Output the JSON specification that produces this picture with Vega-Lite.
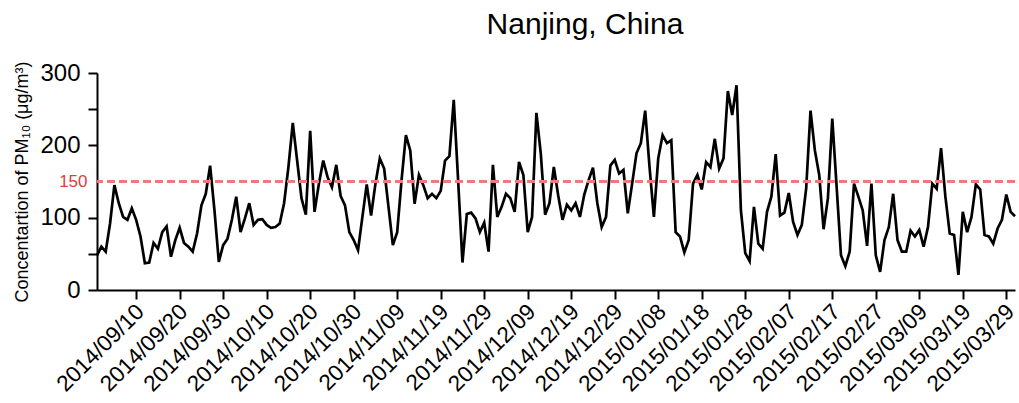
{
  "$schema": "https://vega.github.io/schema/vega-lite/v6.json",
  "width": 918,
  "height": 217,
  "autosize": {"type": "none"},
  "padding": {"left": 97, "top": 73, "right": 4, "bottom": 113},
  "background": "white",
  "title": {"text": "Nanjing, China", "fontSize": 30, "font": "Liberation Sans", "fontWeight": "normal", "color": "black", "anchor": "middle", "dx": 29, "offset": 21},
  "config": {"view": {"stroke": null}},
  "resolve": {"scale": {"y": "shared"}, "axis": {"y": "independent"}},
  "layer": [
    {
      "data": {"values": [
        {"date":"2014-09-01","pm10":48},{"date":"2014-09-02","pm10":60},{"date":"2014-09-03","pm10":53},{"date":"2014-09-04","pm10":92},{"date":"2014-09-05","pm10":145},{"date":"2014-09-06","pm10":120},{"date":"2014-09-07","pm10":101},{"date":"2014-09-08","pm10":97},{"date":"2014-09-09","pm10":113},{"date":"2014-09-10","pm10":97},
        {"date":"2014-09-11","pm10":74},{"date":"2014-09-12","pm10":37},{"date":"2014-09-13","pm10":38},{"date":"2014-09-14","pm10":65},{"date":"2014-09-15","pm10":57},{"date":"2014-09-16","pm10":80},{"date":"2014-09-17","pm10":88},{"date":"2014-09-18","pm10":46},{"date":"2014-09-19","pm10":69},{"date":"2014-09-20","pm10":86},
        {"date":"2014-09-21","pm10":65},{"date":"2014-09-22","pm10":60},{"date":"2014-09-23","pm10":53},{"date":"2014-09-24","pm10":78},{"date":"2014-09-25","pm10":117},{"date":"2014-09-26","pm10":133},{"date":"2014-09-27","pm10":172},{"date":"2014-09-28","pm10":110},{"date":"2014-09-29","pm10":39},{"date":"2014-09-30","pm10":62},
        {"date":"2014-10-01","pm10":71},{"date":"2014-10-02","pm10":97},{"date":"2014-10-03","pm10":129},{"date":"2014-10-04","pm10":80},{"date":"2014-10-05","pm10":99},{"date":"2014-10-06","pm10":120},{"date":"2014-10-07","pm10":90},{"date":"2014-10-08","pm10":97},{"date":"2014-10-09","pm10":98},{"date":"2014-10-10","pm10":90},
        {"date":"2014-10-11","pm10":86},{"date":"2014-10-12","pm10":87},{"date":"2014-10-13","pm10":92},{"date":"2014-10-14","pm10":120},{"date":"2014-10-15","pm10":170},{"date":"2014-10-16","pm10":231},{"date":"2014-10-17","pm10":179},{"date":"2014-10-18","pm10":127},{"date":"2014-10-19","pm10":104},{"date":"2014-10-20","pm10":220},
        {"date":"2014-10-21","pm10":108},{"date":"2014-10-22","pm10":147},{"date":"2014-10-23","pm10":179},{"date":"2014-10-24","pm10":156},{"date":"2014-10-25","pm10":142},{"date":"2014-10-26","pm10":173},{"date":"2014-10-27","pm10":130},{"date":"2014-10-28","pm10":117},{"date":"2014-10-29","pm10":80},{"date":"2014-10-30","pm10":69},
        {"date":"2014-10-31","pm10":55},
        {"date":"2014-11-01","pm10":101},{"date":"2014-11-02","pm10":146},{"date":"2014-11-03","pm10":103},{"date":"2014-11-04","pm10":147},{"date":"2014-11-05","pm10":182},{"date":"2014-11-06","pm10":168},{"date":"2014-11-07","pm10":115},{"date":"2014-11-08","pm10":62},{"date":"2014-11-09","pm10":80},{"date":"2014-11-10","pm10":152},
        {"date":"2014-11-11","pm10":214},{"date":"2014-11-12","pm10":193},{"date":"2014-11-13","pm10":119},{"date":"2014-11-14","pm10":159},{"date":"2014-11-15","pm10":145},{"date":"2014-11-16","pm10":127},{"date":"2014-11-17","pm10":133},{"date":"2014-11-18","pm10":127},{"date":"2014-11-19","pm10":137},{"date":"2014-11-20","pm10":179},
        {"date":"2014-11-21","pm10":185},{"date":"2014-11-22","pm10":263},{"date":"2014-11-23","pm10":152},{"date":"2014-11-24","pm10":38},{"date":"2014-11-25","pm10":105},{"date":"2014-11-26","pm10":107},{"date":"2014-11-27","pm10":99},{"date":"2014-11-28","pm10":80},{"date":"2014-11-29","pm10":93},{"date":"2014-11-30","pm10":53},
        {"date":"2014-12-01","pm10":173},{"date":"2014-12-02","pm10":101},{"date":"2014-12-03","pm10":115},{"date":"2014-12-04","pm10":133},{"date":"2014-12-05","pm10":127},{"date":"2014-12-06","pm10":108},{"date":"2014-12-07","pm10":177},{"date":"2014-12-08","pm10":159},{"date":"2014-12-09","pm10":80},{"date":"2014-12-10","pm10":101},
        {"date":"2014-12-11","pm10":245},{"date":"2014-12-12","pm10":189},{"date":"2014-12-13","pm10":104},{"date":"2014-12-14","pm10":120},{"date":"2014-12-15","pm10":170},{"date":"2014-12-16","pm10":131},{"date":"2014-12-17","pm10":97},{"date":"2014-12-18","pm10":118},{"date":"2014-12-19","pm10":110},{"date":"2014-12-20","pm10":120},
        {"date":"2014-12-21","pm10":101},{"date":"2014-12-22","pm10":132},{"date":"2014-12-23","pm10":152},{"date":"2014-12-24","pm10":169},{"date":"2014-12-25","pm10":120},{"date":"2014-12-26","pm10":87},{"date":"2014-12-27","pm10":101},{"date":"2014-12-28","pm10":172},{"date":"2014-12-29","pm10":180},{"date":"2014-12-30","pm10":161},
        {"date":"2014-12-31","pm10":166},
        {"date":"2015-01-01","pm10":106},{"date":"2015-01-02","pm10":147},{"date":"2015-01-03","pm10":189},{"date":"2015-01-04","pm10":203},{"date":"2015-01-05","pm10":248},{"date":"2015-01-06","pm10":170},{"date":"2015-01-07","pm10":101},{"date":"2015-01-08","pm10":182},{"date":"2015-01-09","pm10":214},{"date":"2015-01-10","pm10":203},
        {"date":"2015-01-11","pm10":207},{"date":"2015-01-12","pm10":80},{"date":"2015-01-13","pm10":74},{"date":"2015-01-14","pm10":52},{"date":"2015-01-15","pm10":69},{"date":"2015-01-16","pm10":147},{"date":"2015-01-17","pm10":159},{"date":"2015-01-18","pm10":139},{"date":"2015-01-19","pm10":177},{"date":"2015-01-20","pm10":170},
        {"date":"2015-01-21","pm10":209},{"date":"2015-01-22","pm10":168},{"date":"2015-01-23","pm10":182},{"date":"2015-01-24","pm10":275},{"date":"2015-01-25","pm10":242},{"date":"2015-01-26","pm10":283},{"date":"2015-01-27","pm10":110},{"date":"2015-01-28","pm10":51},{"date":"2015-01-29","pm10":40},{"date":"2015-01-30","pm10":115},
        {"date":"2015-01-31","pm10":64},
        {"date":"2015-02-01","pm10":57},{"date":"2015-02-02","pm10":108},{"date":"2015-02-03","pm10":129},{"date":"2015-02-04","pm10":188},{"date":"2015-02-05","pm10":103},{"date":"2015-02-06","pm10":107},{"date":"2015-02-07","pm10":134},{"date":"2015-02-08","pm10":94},{"date":"2015-02-09","pm10":76},{"date":"2015-02-10","pm10":90},
        {"date":"2015-02-11","pm10":140},{"date":"2015-02-12","pm10":248},{"date":"2015-02-13","pm10":193},{"date":"2015-02-14","pm10":159},{"date":"2015-02-15","pm10":84},{"date":"2015-02-16","pm10":127},{"date":"2015-02-17","pm10":237},{"date":"2015-02-18","pm10":143},{"date":"2015-02-19","pm10":48},{"date":"2015-02-20","pm10":33},
        {"date":"2015-02-21","pm10":53},{"date":"2015-02-22","pm10":147},{"date":"2015-02-23","pm10":129},{"date":"2015-02-24","pm10":110},{"date":"2015-02-25","pm10":61},{"date":"2015-02-26","pm10":147},{"date":"2015-02-27","pm10":48},{"date":"2015-02-28","pm10":25},
        {"date":"2015-03-01","pm10":69},{"date":"2015-03-02","pm10":87},{"date":"2015-03-03","pm10":133},{"date":"2015-03-04","pm10":69},{"date":"2015-03-05","pm10":53},{"date":"2015-03-06","pm10":53},{"date":"2015-03-07","pm10":82},{"date":"2015-03-08","pm10":74},{"date":"2015-03-09","pm10":83},{"date":"2015-03-10","pm10":60},
        {"date":"2015-03-11","pm10":87},{"date":"2015-03-12","pm10":147},{"date":"2015-03-13","pm10":140},{"date":"2015-03-14","pm10":196},{"date":"2015-03-15","pm10":129},{"date":"2015-03-16","pm10":78},{"date":"2015-03-17","pm10":76},{"date":"2015-03-18","pm10":21},{"date":"2015-03-19","pm10":108},{"date":"2015-03-20","pm10":80},
        {"date":"2015-03-21","pm10":101},{"date":"2015-03-22","pm10":146},{"date":"2015-03-23","pm10":139},{"date":"2015-03-24","pm10":76},{"date":"2015-03-25","pm10":74},{"date":"2015-03-26","pm10":64},{"date":"2015-03-27","pm10":85},{"date":"2015-03-28","pm10":97},{"date":"2015-03-29","pm10":132},{"date":"2015-03-30","pm10":108},
        {"date":"2015-03-31","pm10":102}
      ]},
      "mark": {"type": "line", "color": "black", "strokeWidth": 2.7, "strokeJoin": "miter"},
      "encoding": {
        "x": {
          "field": "date", "type": "temporal",
          "scale": {"type": "utc", "nice": false, "domain": [{"year": 2014, "month": 9, "date": 1, "utc": true}, {"year": 2015, "month": 3, "date": 31, "utc": true}]},
          "axis": {
            "values": [
              {"year": 2014, "month": 9, "date": 10, "utc": true},{"year": 2014, "month": 9, "date": 20, "utc": true},{"year": 2014, "month": 9, "date": 30, "utc": true},
              {"year": 2014, "month": 10, "date": 10, "utc": true},{"year": 2014, "month": 10, "date": 20, "utc": true},{"year": 2014, "month": 10, "date": 30, "utc": true},
              {"year": 2014, "month": 11, "date": 9, "utc": true},{"year": 2014, "month": 11, "date": 19, "utc": true},{"year": 2014, "month": 11, "date": 29, "utc": true},
              {"year": 2014, "month": 12, "date": 9, "utc": true},{"year": 2014, "month": 12, "date": 19, "utc": true},{"year": 2014, "month": 12, "date": 29, "utc": true},
              {"year": 2015, "month": 1, "date": 8, "utc": true},{"year": 2015, "month": 1, "date": 18, "utc": true},{"year": 2015, "month": 1, "date": 28, "utc": true},
              {"year": 2015, "month": 2, "date": 7, "utc": true},{"year": 2015, "month": 2, "date": 17, "utc": true},{"year": 2015, "month": 2, "date": 27, "utc": true},
              {"year": 2015, "month": 3, "date": 9, "utc": true},{"year": 2015, "month": 3, "date": 19, "utc": true},{"year": 2015, "month": 3, "date": 29, "utc": true}
            ],
            "format": "%Y/%m/%d",
            "labelAngle": -45,
            "labelFont": "Liberation Sans",
            "labelFontSize": 22.5,
            "labelColor": "black",
            "labelPadding": 1,
            "labelOffset": -4,
            "labelOverlap": false,
            "labelBound": false,
            "tickSize": 9,
            "tickWidth": 2,
            "tickColor": "black",
            "domainColor": "black",
            "domainWidth": 2,
            "grid": false,
            "title": null
          }
        },
        "y": {
          "field": "pm10", "type": "quantitative",
          "scale": {"domain": [0, 300], "nice": false},
          "axis": {
            "orient": "left",
            "values": [0, 50, 100, 200, 250, 300],
            "labelExpr": "datum.value % 100 == 0 ? datum.label : ''",
            "labelFont": "Liberation Sans",
            "labelFontSize": 24,
            "labelColor": "black",
            "labelPadding": 8,
            "labelOverlap": false,
            "tickSize": 9,
            "tickWidth": 2,
            "tickColor": "black",
            "domainColor": "black",
            "domainWidth": 2,
            "grid": false,
            "title": "Concentartion of PM₁₀ (μg/m³)",
            "titleFont": "Liberation Sans",
            "titleFontSize": 18,
            "titleFontWeight": "normal",
            "titleColor": "black",
            "titlePadding": 8
          }
        }
      }
    },
    {
      "data": {"values": [{"limit": 150}]},
      "mark": {"type": "rule", "color": "#f07878", "strokeWidth": 3, "strokeDash": [8, 4]},
      "encoding": {
        "y": {
          "field": "limit", "type": "quantitative",
          "scale": {"domain": [0, 300], "nice": false},
          "axis": {
            "orient": "left",
            "values": [150],
            "labelFont": "Liberation Sans",
            "labelFontSize": 17,
            "labelColor": "#e03c3c",
            "labelPadding": 10,
            "ticks": false,
            "domain": false,
            "grid": false,
            "title": null
          }
        }
      }
    }
  ]
}
